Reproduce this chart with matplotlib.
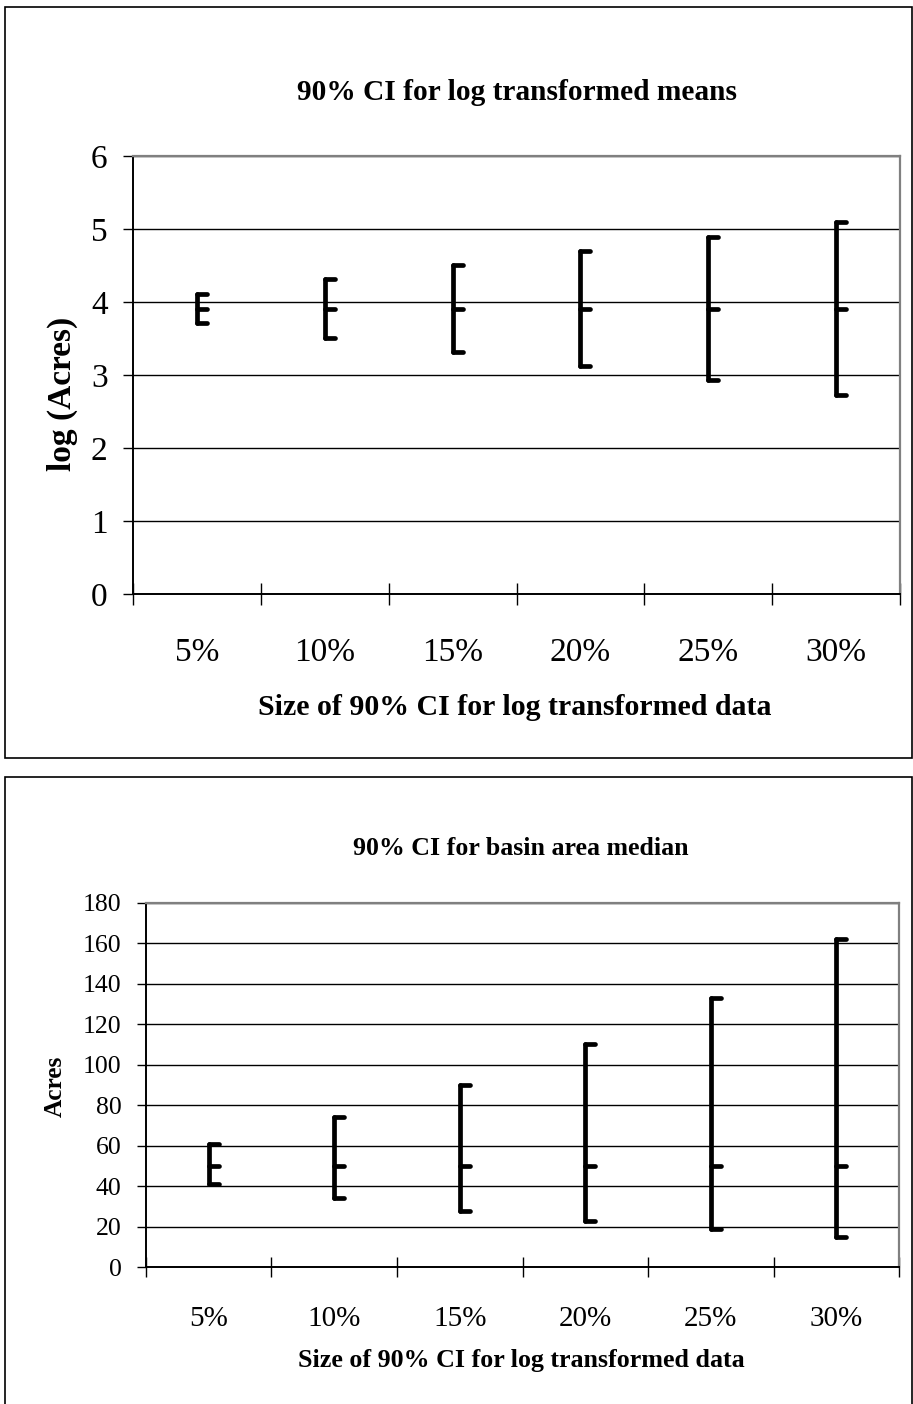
import matplotlib
matplotlib.use("Agg")
import matplotlib.pyplot as plt
from matplotlib.markers import MarkerStyle
from matplotlib.path import Path
from matplotlib.patches import Rectangle

# CI sizes on the x axis
categories = ['5%', '10%', '15%', '20%', '25%', '30%']

# log transformed means (natural log of acres)
log_mid = [3.91, 3.91, 3.91, 3.91, 3.91, 3.91]
log_low = [3.71, 3.51, 3.31, 3.12, 2.93, 2.73]
log_high = [4.11, 4.31, 4.51, 4.70, 4.89, 5.09]

# back transformed median basin area (acres)
acre_mid = [50, 50, 50, 50, 50, 50]
acre_low = [41, 34, 28, 23, 19, 15]
acre_high = [61, 74, 90, 110, 133, 162]

W, H = 913, 1404
plt.rcParams['font.family'] = ['Liberation Serif', 'DejaVu Serif']

fig = plt.figure(figsize=(W / 100, H / 100), dpi=100)


def fx(x):
    return x / W


def fy(y):
    return 1 - y / H


def add_ax(left, top, right, bottom):
    return fig.add_axes([fx(left), fy(bottom), (right - left) / W, (bottom - top) / H])


# short tick pointing right from the bar, like an open/close tick
tick_mark = MarkerStyle(Path([(0, 0), (1, 0)]), capstyle='round')


def hilo(ax, low, mid, high, tick_len, tx_len, tick_size, label_pad):
    x = list(range(len(categories)))
    ax.vlines(x, low, high, colors='black', lw=3.4, capstyle='round', zorder=3)
    for vals in (low, mid, high):
        ax.plot(x, vals, ls='none', marker=tick_mark, ms=15, mew=3.4,
                color='black', zorder=3)
    ax.set_xlim(-0.5, len(categories) - 0.5)
    ax.set_xticks([i - 0.5 for i in range(len(categories) + 1)])
    ax.set_xticklabels([])
    ax.set_xticks(x, minor=True)
    ax.set_xticklabels(categories, minor=True, fontsize=tick_size)
    ax.tick_params(axis='x', which='major', direction='inout', length=tx_len,
                   width=1, color='black')
    ax.tick_params(axis='x', which='minor', length=0, pad=label_pad)
    ax.tick_params(axis='y', direction='out', length=tick_len, width=1,
                   color='black', pad=11)
    ax.yaxis.grid(True, color='black', lw=1)
    ax.set_axisbelow(True)
    for s in ('top', 'right'):
        ax.spines[s].set_color('#808080')
        ax.spines[s].set_linewidth(1.6)
    for s in ('left', 'bottom'):
        ax.spines[s].set_color('black')
        ax.spines[s].set_linewidth(1.4)


# outer chart frames
fig.add_artist(Rectangle((fx(5), fy(758)), fx(912) - fx(5), fy(7) - fy(758),
                         transform=fig.transFigure, fill=False, ec='black', lw=1.2))
fig.add_artist(Rectangle((fx(5), fy(1420)), fx(912) - fx(5), fy(777) - fy(1420),
                         transform=fig.transFigure, fill=False, ec='black', lw=1.2))

# upper chart: log scale
ax1 = add_ax(133, 156, 900, 594)
hilo(ax1, log_low, log_mid, log_high, 7.2, 16.5, 24, 31)
ax1.set_ylim(0, 6)
ax1.set_yticks(range(0, 7))
ax1.tick_params(axis='y', labelsize=24)
fig.text(fx(517), fy(100), '90% CI for log transformed means', ha='center',
         va='baseline', fontsize=21.2, fontweight='bold')
fig.text(fx(515), fy(715), 'Size of 90% CI for log transformed data', ha='center',
         va='baseline', fontsize=21.5, fontweight='bold')
fig.text(fx(62), fy(394), 'log (Acres)', ha='center', va='center', rotation=90,
         fontsize=24, fontweight='bold')

# lower chart: acres
ax2 = add_ax(145.7, 902.7, 899.3, 1267.3)
hilo(ax2, acre_low, acre_mid, acre_high, 6.5, 13.7, 21, 28)
ax2.set_ylim(0, 180)
ax2.set_yticks(range(0, 181, 20))
ax2.tick_params(axis='y', labelsize=18.5)
fig.text(fx(521), fy(855), '90% CI for basin area median', ha='center',
         va='baseline', fontsize=18.6, fontweight='bold')
fig.text(fx(521), fy(1367), 'Size of 90% CI for log transformed data', ha='center',
         va='baseline', fontsize=18.7, fontweight='bold')
fig.text(fx(55), fy(1086), 'Acres', ha='center', va='center', rotation=90,
         fontsize=18.3, fontweight='bold')

fig.savefig('out.png', dpi=100)
